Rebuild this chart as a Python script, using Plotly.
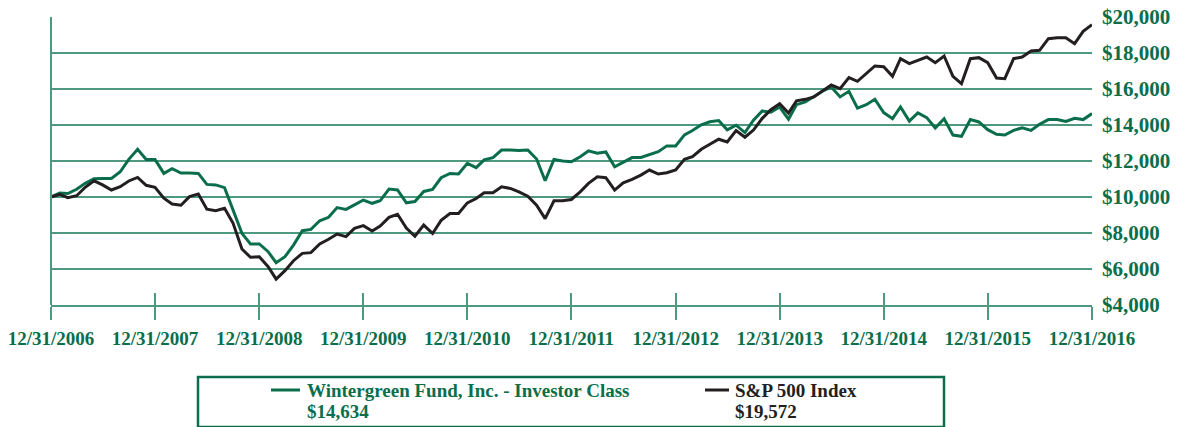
import pandas as pd
import plotly.graph_objects as go

# ---- data (month-end values of a $10,000 investment) ----
dates = pd.date_range("2006-12-31", "2016-12-31", freq="ME")

fund_values = [
    10000, 10220, 10190, 10430, 10760, 11010, 11030, 11030, 11400, 12090,
    12650, 12090, 12090, 11310, 11570, 11330, 11330, 11310, 10700, 10670,
    10520, 9280, 7980, 7390, 7390, 6960, 6350, 6680, 7330, 8130,
    8200, 8680, 8870, 9410, 9310, 9560, 9830, 9650, 9790, 10440,
    10390, 9680, 9750, 10310, 10420, 11070, 11310, 11275, 11870, 11630,
    12060, 12190, 12610, 12610, 12580, 12610, 12110, 10900, 12090, 12000,
    11960, 12240, 12560, 12430, 12500, 11680, 11910, 12190, 12200, 12350,
    12520, 12840, 12840, 13450, 13690, 14010, 14180, 14250, 13730, 13990,
    13580, 14270, 14780, 14710, 15000, 14320, 15130, 15280, 15560, 15890,
    16110, 15560, 15870, 14940, 15130, 15430, 14690, 14350, 15000, 14220,
    14670, 14410, 13830, 14350, 13440, 13370, 14300, 14170, 13740, 13480,
    13440, 13700, 13850, 13700, 14040, 14300, 14300, 14200, 14370, 14300,
    14634,
]

sp500_values = [
    10000, 10150, 9960, 10070, 10540, 10900, 10670, 10390, 10570, 10890,
    11090, 10650, 10540, 9930, 9610, 9540, 10020, 10170, 9320, 9240,
    9370, 8540, 7110, 6650, 6680, 6130, 5440, 5910, 6460, 6870,
    6910, 7390, 7650, 7940, 7800, 8260, 8410, 8110, 8390, 8870,
    9040, 8270, 7820, 8440, 7970, 8700, 9080, 9080, 9675, 9917,
    10233, 10233, 10568, 10475, 10289, 10047, 9545, 8801, 9787, 9787,
    9861, 10289, 10754, 11126, 11070, 10382, 10791, 10977, 11219, 11498,
    11275, 11349, 11498, 12093, 12242, 12651, 12930, 13209, 13060, 13693,
    13321, 13720, 14370, 14850, 15180, 14660, 15340, 15426, 15556, 15889,
    16222, 16019, 16630, 16426, 16852, 17278, 17241, 16704, 17685, 17407,
    17593, 17778, 17463, 17833, 16704, 16296, 17685, 17741, 17463, 16611,
    16574, 17685, 17778, 18111, 18148, 18796, 18852, 18852, 18519, 19204,
    19572,
]

fund_name = "Wintergreen Fund, Inc. - Investor Class"
sp_name = "S&P 500 Index"

tick_dates = pd.date_range("2006-12-31", "2016-12-31", freq="YE")
tick_labels = [d.strftime("%m/%d/%Y") for d in tick_dates]
y_ticks = [4000, 6000, 8000, 10000, 12000, 14000, 16000, 18000, 20000]
y_labels = [f"${v:,}" for v in y_ticks]

# ---- styles ----
GREEN = "#0a6e4b"
GRID = "#4f9a7e"
BLACK = "#231f20"
FONT = "Liberation Serif"

fig = go.Figure()
fig.add_trace(go.Scatter(x=dates, y=fund_values, mode="lines", name=fund_name,
                         line=dict(color=GREEN, width=3), xaxis="x", yaxis="y"))
fig.add_trace(go.Scatter(x=dates, y=sp500_values, mode="lines", name=sp_name,
                         line=dict(color=BLACK, width=3), xaxis="x2", yaxis="y"))

xr = [tick_dates[0], tick_dates[-1]]
fig.update_layout(
    width=1179, height=427,
    margin=dict(l=51, r=87, t=17, b=122, autoexpand=False),
    paper_bgcolor="white", plot_bgcolor="white",
    showlegend=False,
    xaxis=dict(type="date", range=xr, tickvals=list(tick_dates), ticktext=tick_labels,
               showgrid=False, zeroline=False, showline=True, linecolor=GRID, linewidth=2,
               ticks="outside", ticklen=13, tickwidth=2, tickcolor=GRID,
               ticklabelstandoff=2, automargin=False,
               tickfont=dict(family=FONT, size=19, color=GREEN, weight="bold")),
    xaxis2=dict(type="date", range=xr, overlaying="x", anchor="y", side="bottom",
                tickvals=list(tick_dates), showticklabels=False, showgrid=False,
                zeroline=False, showline=False, automargin=False,
                ticks="inside", ticklen=12, tickwidth=2, tickcolor=GRID),
    yaxis=dict(range=[4000, 20000], side="right", tickvals=y_ticks, ticktext=y_labels,
               showgrid=True, gridcolor=GRID, gridwidth=2, automargin=False,
               zeroline=False, showline=False, ticks="", ticklabelstandoff=9,
               tickfont=dict(family=FONT, size=21, color=GREEN, weight="bold")),
)

# left axis line
fig.add_shape(type="line", xref="paper", yref="paper", x0=0, x1=0, y0=0, y1=1,
              line=dict(color=GRID, width=2))

# ---- legend box (paper coords relative to plot area) ----
def px_x(px):
    return (px - 51) / 1041.0

def px_y(py):
    return (305 - py) / 288.0

fig.add_shape(type="rect", xref="paper", yref="paper",
              x0=px_x(198), x1=px_x(944), y0=px_y(427), y1=px_y(377),
              line=dict(color=GREEN, width=2.5), fillcolor="rgba(0,0,0,0)")

entries = [
    (fund_name, fund_values[-1], GREEN, 271, 300, 305),
    (sp_name, sp500_values[-1], BLACK, 705, 729, 733),
]
for name, last, color, lx0, lx1, tx in entries:
    fig.add_shape(type="line", xref="paper", yref="paper",
                  x0=px_x(lx0), x1=px_x(lx1), y0=px_y(390), y1=px_y(390),
                  line=dict(color=color, width=3))
    fig.add_annotation(xref="paper", yref="paper", x=px_x(tx), y=px_y(390),
                       xanchor="left", yanchor="middle", showarrow=False, text=name,
                       font=dict(family=FONT, size=19, color=color, weight="bold"))
    fig.add_annotation(xref="paper", yref="paper", x=px_x(tx), y=px_y(411),
                       xanchor="left", yanchor="middle", showarrow=False,
                       text=f"${last:,.0f}",
                       font=dict(family=FONT, size=19, color=color, weight="bold"))

fig.write_html("out.html", config={"displayModeBar": False},
               post_script="document.body.style.margin='0';document.body.style.overflow='hidden';")
